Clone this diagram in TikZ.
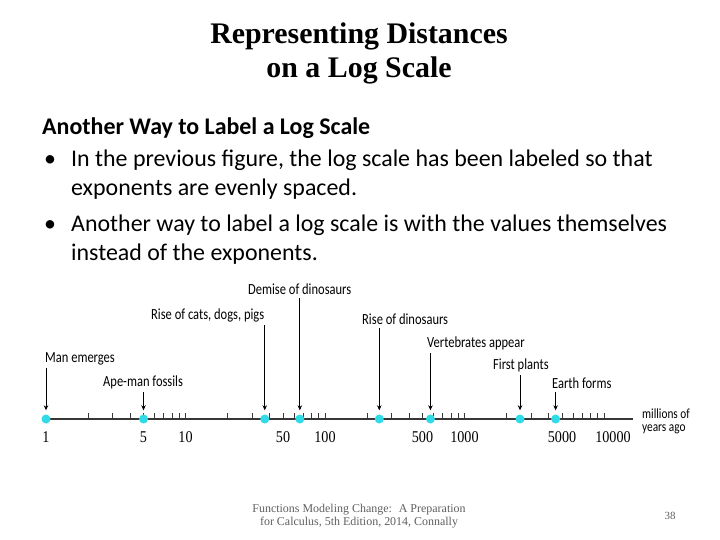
\documentclass[tikz,border=0pt]{standalone}
\usepackage{fontspec}
\setmainfont{Liberation Serif}
\newfontfamily\slidefont{Carlito}
\newfontfamily\figfont{Carlito}[FakeStretch=0.81]
\newfontfamily\numfont{Liberation Serif}[FakeStretch=0.86]
\usepackage{tikz}
\usetikzlibrary{arrows.meta,calc,positioning}

\definecolor{dotcyan}{RGB}{48,218,230}
\definecolor{axisgray}{RGB}{55,55,55}
\definecolor{footgray}{RGB}{95,95,95}

\tikzset{
	event/.style={font=\figfont\fontsize{15.5}{16}\selectfont, inner sep=0pt, anchor=base west},
	evarrow/.style={-{Stealth[length=5bp,width=4.5bp]}, line width=0.7bp, shorten <=3bp, shorten >=4bp},
	tickmark/.style={axisgray, line width=0.8bp},
	yeardot/.style={circle, fill=dotcyan, inner sep=0pt, minimum size=9bp},
	yearnum/.style={font=\numfont\fontsize{16.5}{17}\selectfont, inner sep=0pt, anchor=base},
	bodyline/.style={font=\slidefont\fontsize{24}{28}\selectfont, inner sep=0pt, anchor=base west},
	titleline/.style={font=\bfseries\fontsize{30}{34}\selectfont, inner sep=0pt, anchor=base},
	footline/.style={font=\fontsize{12}{13.5}\selectfont, text=footgray, inner sep=0pt, anchor=base},
}

\begin{document}
\begin{tikzpicture}[x=1bp, y=-1bp, declare function={lx(\v)=46+139.5*ln(\v)/ln(10);}]
		\useasboundingbox (0,0) rectangle (720,540);

		% title and slide text
		\node[titleline] (title1) at (359,44) {Representing Distances};
		\node[titleline] (title2) at (359,78) {on a Log Scale};
		\node[bodyline, font=\slidefont\bfseries\fontsize{24}{28}\selectfont] (head) at (42,135) {Another Way to Label a Log Scale};
		\node[bodyline] (b1) at (44,167) {•};
		\node[bodyline] (t1) at (71,167) {In the previous figure, the log scale has been labeled so that};
		\node[bodyline] (t2) at (71,196) {exponents are evenly spaced.};
		\node[bodyline] (b2) at (44,232) {•};
		\node[bodyline] (t3) at (71,232) {Another way to label a log scale is with the values themselves};
		\node[bodyline] (t4) at (71,261) {instead of the exponents.};

		% the axis
		\coordinate (axisL) at (46,419);
		\coordinate (axisR) at (633,419);
		\draw[axisgray, line width=1.6bp] (axisL) -- (axisR);
		\foreach \dec in {1,10,100,1000}
		\foreach \m in {2,...,10}
		\draw[tickmark] ({lx(\dec*\m)},419) -- ++(0,-6);
		\foreach \v in {1,5,10,50,100,500,1000,5000}
		\node[yearnum] (n\v) at ({lx(\v)},442.5) {\v};
		\node[yearnum] (n10000) at (613,442.5) {10000};
		\node[event, font=\figfont\fontsize{14}{14}\selectfont] (unit1) at (642,418) {millions of};
		\node[event, font=\figfont\fontsize{14}{14}\selectfont] (unit2) at (642,431) {years ago};

		% events
		\node[yeardot] (dman) at ({lx(1)},419) {};
		\node[yeardot] (dape) at ({lx(5)},419) {};
		\node[yeardot] (dcats) at ({lx(37)},419) {};
		\node[yeardot] (ddemise) at ({lx(66)},419) {};
		\node[yeardot] (drise) at ({lx(245)},419) {};
		\node[yeardot] (dvert) at ({lx(570)},419) {};
		\node[yeardot] (dplants) at ({lx(2500)},419) {};
		\node[yeardot] (dearth) at ({lx(4500)},419) {};

		\node[event] (lman) at (45,362) {Man emerges};
		\node[event] (lape) at (103,386.5) {Ape-man fossils};
		\node[event] (lcats) at (151,319.5) {Rise of cats, dogs, pigs};
		\node[event] (ldemise) at (248,294.5) {Demise of dinosaurs};
		\node[event] (lrise) at (362,324.5) {Rise of dinosaurs};
		\node[event] (lvert) at (427,347.5) {Vertebrates appear};
		\node[event] (lplants) at (493,369.5) {First plants};
		\node[event] (learth) at (552,388.5) {Earth forms};

		\foreach \e in {man,ape,cats,demise,rise,vert,plants,earth}
		\draw[evarrow] (l\e.south -| d\e) -- (d\e.north);

		% footer
		\node[footline] (foot1) at (359,512) {Functions Modeling Change:~ A Preparation};
		\node[footline] (foot2) at (359,525.5) {for Calculus, 5th Edition, 2014, Connally};
		\node[footline, font=\fontsize{11}{12}\selectfont] (page) at (670,519) {38};
	\end{tikzpicture}
\end{document}
